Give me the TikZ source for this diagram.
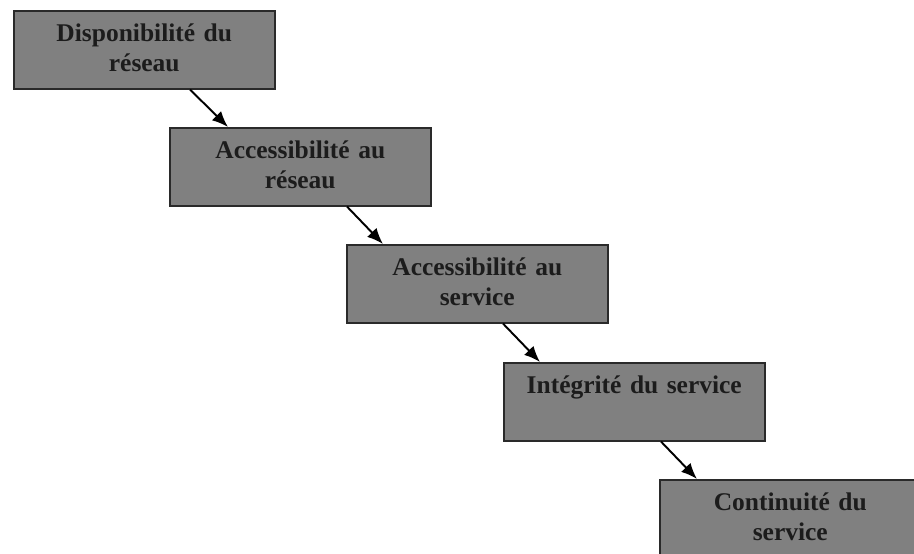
\documentclass[tikz,border=0pt]{standalone}
\usepackage{fontspec}
\setmainfont{Liberation Serif}
\usepackage{tikz}
\usetikzlibrary{arrows.meta,positioning,calc}
\definecolor{boxgray}{HTML}{808080}
\definecolor{edge}{HTML}{2A2A2A}
\definecolor{ink}{HTML}{1C1C1C}
\tikzset{
  box/.style={draw=edge, line width=0.9pt, fill=boxgray, text=ink, inner sep=0pt, anchor=north west,
    minimum width=5.22cm, text width=5.22cm, text height=0.62cm, text depth=0.94cm, align=center,
    font=\fontsize{14.5}{16.8}\selectfont\bfseries},
  flow/.style={-{Latex[length=3.2mm,width=2.6mm]}, line width=1.1pt, draw=black},
}
\begin{document}
\begin{tikzpicture}[x=0.02cm,y=-0.02cm]
  \useasboundingbox (0,0) rectangle (914,554);
  \clip (0,0) rectangle (914,554);
  % steps
  \node[box](dispo) at (13,10){Disponibilité du\\réseau};
  \node[box](accres) at (169,127){Accessibilité au\\réseau};
  \node[box](accserv) at (346,244){Accessibilité au\\service};
  \node[box](integ) at (503,362){Intégrité du service};
  \node[box](contin) at (659,479){Continuité du\\service};
  % links
  \draw[flow] ($(dispo.south west)+(177,0)$) -- ($(accres.north west)+(59,0)$);
  \draw[flow] ($(accres.south west)+(178,0)$) -- ($(accserv.north west)+(37,0)$);
  \draw[flow] ($(accserv.south west)+(157,0)$) -- ($(integ.north west)+(37,0)$);
  \draw[flow] ($(integ.south west)+(158,0)$) -- ($(contin.north west)+(38,0)$);
\end{tikzpicture}
\end{document}
